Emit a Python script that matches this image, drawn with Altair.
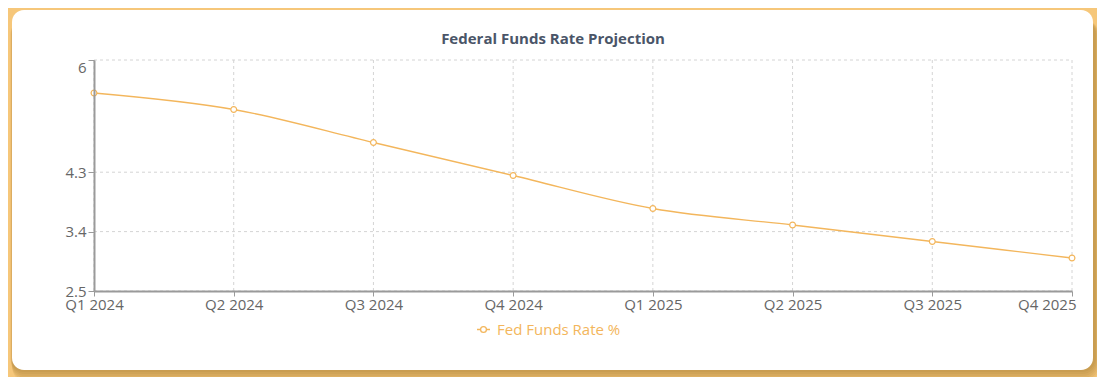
import altair as alt
import pandas as pd

# ---- data ----
quarters = ["Q1 2024", "Q2 2024", "Q3 2024", "Q4 2024",
            "Q1 2025", "Q2 2025", "Q3 2025", "Q4 2025"]
rates = [5.5, 5.25, 4.75, 4.25, 3.75, 3.5, 3.25, 3.0]
y_ticks = [2.5, 3.4, 4.3, 6]
series_name = "Fed Funds Rate %"
title_text = "Federal Funds Rate Projection"

# ---- style ----
FONT = "Open Sans"
ORANGE = "#f3b65c"
BG = "#f6c77a"
W, H = 978, 231
PAD = {"left": 86, "top": 52, "right": 25, "bottom": 86}

df = pd.DataFrame({"quarter": quarters, "rate": rates,
                   "series": [series_name] * len(quarters)})
ticks_df = pd.DataFrame({"tick": y_ticks})
one = alt.Data(values=[{"k": 1}])

x_scale = alt.Scale(type="point", padding=0, domain=quarters)
y_scale = alt.Scale(domain=[2.5, 6], nice=False, zero=False)

x_axis = alt.Axis(
    title=None, grid=False, domainColor="#9a9a9a", domainWidth=2,
    tickColor="#9a9a9a", tickSize=5, labelFont=FONT, labelFontSize=15,
    labelColor="#666666", labelPadding=1, labelAngle=0,
    labelAlign=alt.expr("datum.label == 'Q4 2025' ? 'right' : 'center'"),
    labelOffset=alt.expr("datum.label == 'Q4 2025' ? 4 : 0"),
    zindex=1,
)
y_axis = alt.Axis(
    title=None, grid=False, values=y_ticks, format=".2~g",
    domainColor="#9a9a9a", domainWidth=2, tickColor="#9a9a9a", tickSize=6,
    labelFont=FONT, labelFontSize=15, labelColor="#666666", labelPadding=2,
    labelBaseline=alt.expr("datum.value == 6 ? 'top' : 'middle'"),
    zindex=1,
)

X = alt.X("quarter:N", scale=x_scale, axis=x_axis, sort=quarters)
Y = alt.Y("rate:Q", scale=y_scale, axis=y_axis)

# card geometry relative to plot origin (decoration only)
CL, CT, CR, CB = -82, -50, 999, 310

shadows = []
for k in [12, 10, 8, 6, 4, 2]:
    shadows.append(
        alt.Chart(one).mark_rect(color="#7a4e0c", opacity=0.07, cornerRadius=14)
        .encode(x=alt.value(CL - 2 + k * 0.2), x2=alt.value(CR + 2 + k * 0.3),
                y=alt.value(CT + 10), y2=alt.value(CB + k))
    )

card = alt.Chart(one).mark_rect(color="white", cornerRadius=12).encode(
    x=alt.value(CL), x2=alt.value(CR), y=alt.value(CT), y2=alt.value(CB)
)

hgrid = alt.Chart(ticks_df).mark_rule(
    color="#d4d4d4", strokeDash=[3, 3], strokeWidth=1
).encode(
    y=alt.Y("tick:Q", scale=y_scale, axis=y_axis),
    x=alt.value(0), x2=alt.value(W),
)

vgrid = alt.Chart(df).mark_rule(
    color="#d4d4d4", strokeDash=[3, 3], strokeWidth=1
).encode(x=X, y=alt.value(0), y2=alt.value(H))

legend = alt.Legend(
    title=None, orient="none", legendX=382, legendY=262, padding=0,
    symbolType="M-1,0H-0.45M0.45,0H1M-0.45,0A0.45,0.45 0 1,1 0.45,0A0.45,0.45 0 1,1 -0.45,0Z",
    symbolSize=169, symbolStrokeColor=ORANGE, symbolFillColor="white",
    symbolStrokeWidth=1.3, labelColor=ORANGE, labelFont=FONT,
    labelFontSize=15, labelOffset=6, zindex=1,
)

line = alt.Chart(df).mark_line(
    strokeWidth=1.3, interpolate="monotone"
).encode(
    x=X, y=Y,
    color=alt.Color("series:N", scale=alt.Scale(range=[ORANGE]), legend=legend),
)

points = alt.Chart(df).mark_point(
    shape="circle", filled=True, fill="white", stroke=ORANGE,
    strokeWidth=1.2, size=34, opacity=1
).encode(x=X, y=Y)

chart = alt.layer(*shadows, card, hgrid, vgrid, line, points).properties(
    width=W, height=H,
    title=alt.Title(title_text, font=FONT, fontSize=15, fontWeight="bold",
                    color="#4a5568", anchor="middle", frame="group", dx=-30,
                    offset=0, dy=49, baseline="alphabetic", zindex=1),
    padding=PAD, autosize="none", background=BG,
).configure_view(stroke="transparent")

chart.save("out.html", embed_options={"renderer": "svg", "actions": False})
